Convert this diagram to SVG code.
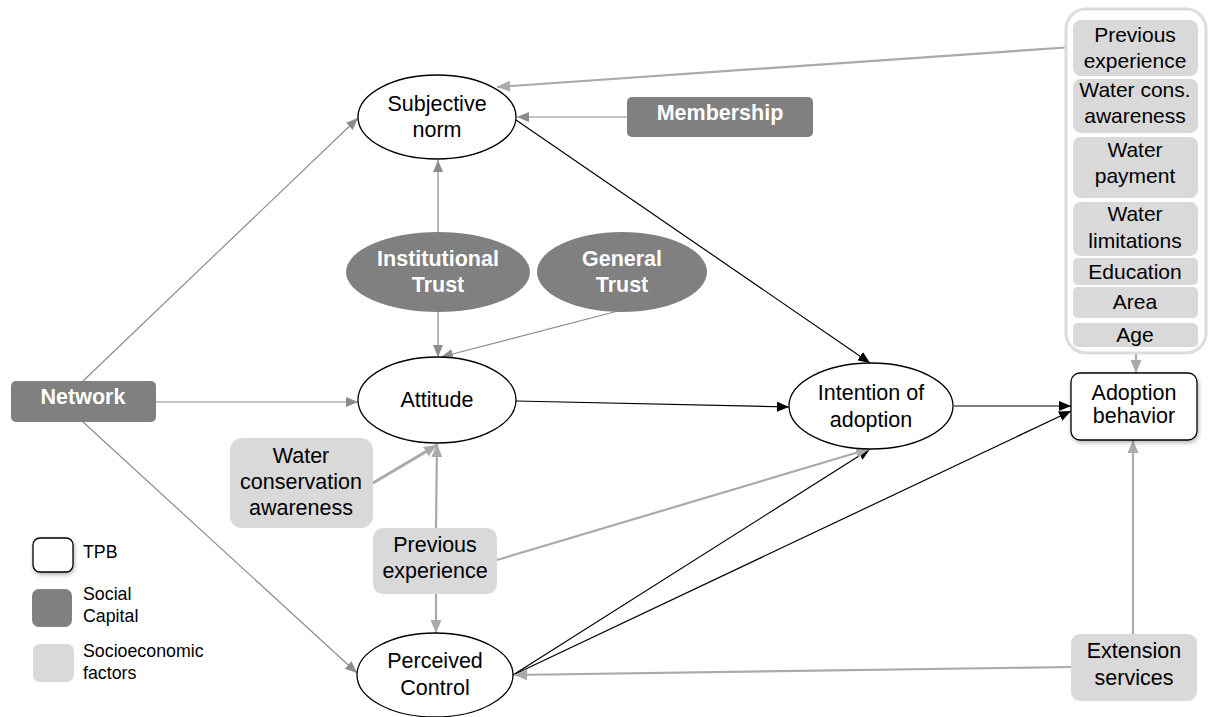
<svg xmlns="http://www.w3.org/2000/svg" width="1208" height="717" viewBox="0 0 1208 717">
<defs>
<style>
text{font-family:"Liberation Sans",Arial,sans-serif;text-anchor:middle}
.t{font-size:21.5px;fill:#000}
.tc{font-size:21px;fill:#000}
.tw{font-size:21.5px;font-weight:bold;fill:#fff}
.lg{font-size:17.8px;fill:#000;text-anchor:start}
.tpb{fill:#fff;stroke:#000;stroke-width:1.3}
.sc{fill:#808080}
.se{fill:#d9d9d9}
.g{stroke:#8c8c8c;stroke-width:1.2;fill:none;marker-end:url(#ag)}
.l{stroke:#aaaaaa;stroke-width:2.2;fill:none;marker-end:url(#al)}
.lw{stroke:#aaaaaa;stroke-width:3;fill:none;marker-end:url(#al)}
.b{stroke:#000;stroke-width:1.2;fill:none;marker-end:url(#ab)}
</style>
<marker id="ag" markerUnits="userSpaceOnUse" markerWidth="12" markerHeight="10" refX="12" refY="5" orient="auto"><path d="M0,0 L12,5 L0,10 z" fill="#8c8c8c"/></marker>
<marker id="al" markerUnits="userSpaceOnUse" markerWidth="13" markerHeight="11" refX="13" refY="5.5" orient="auto"><path d="M0,0 L13,5.5 L0,11 z" fill="#aaaaaa"/></marker>
<marker id="ab" markerUnits="userSpaceOnUse" markerWidth="12" markerHeight="10" refX="12" refY="5" orient="auto"><path d="M0,0 L12,5 L0,10 z" fill="#000"/></marker>
<filter id="sh" x="-20%" y="-20%" width="140%" height="140%"><feDropShadow dx="1" dy="2" stdDeviation="2" flood-color="#000" flood-opacity="0.3"/></filter>
</defs>

<g id="connectors">
<line class="g" x1="83" y1="381" x2="358" y2="118"/>
<line class="g" x1="156" y1="402" x2="358" y2="402"/>
<line class="g" x1="83" y1="422" x2="357" y2="673"/>
<line class="g" x1="627" y1="117" x2="517" y2="117"/>
<line class="l" x1="1073" y1="47" x2="497" y2="87"/>
<line class="g" x1="438" y1="232" x2="438" y2="160"/>
<line class="g" x1="438" y1="312" x2="438" y2="357"/>
<line class="g" x1="618" y1="311" x2="441" y2="357"/>
<line class="b" x1="516" y1="120" x2="870" y2="363"/>
<line class="b" x1="516" y1="401" x2="789" y2="407"/>
<line class="b" x1="954" y1="406" x2="1071" y2="406"/>
<line class="b" x1="513" y1="675" x2="870" y2="449"/>
<line class="b" x1="513" y1="675" x2="1071" y2="411"/>
<line class="l" x1="497" y1="560" x2="869" y2="449"/>
<line class="l" x1="436" y1="528" x2="437" y2="444"/>
<line class="l" x1="436" y1="594" x2="436" y2="633"/>
<line class="lw" x1="373" y1="483" x2="437" y2="445"/>
<line class="l" x1="1071" y1="667" x2="514" y2="675"/>
<line class="l" x1="1133" y1="634" x2="1133" y2="440"/>
<line class="l" x1="1136" y1="353" x2="1136" y2="373"/>
</g>

<g id="subjective-norm">
<ellipse class="tpb" cx="437" cy="117" rx="79" ry="42"/>
<text class="t" x="437" y="111">Subjective</text>
<text class="t" x="437" y="137">norm</text>
</g>

<g id="membership">
<rect class="sc" x="627" y="97" width="186" height="40" rx="5"/>
<text class="tw" x="720" y="120">Membership</text>
</g>

<g id="institutional-trust">
<ellipse class="sc" cx="438" cy="272" rx="92" ry="40"/>
<text class="tw" x="438" y="266">Institutional</text>
<text class="tw" x="438" y="292">Trust</text>
</g>

<g id="general-trust">
<ellipse class="sc" cx="622" cy="272" rx="85" ry="40"/>
<text class="tw" x="622" y="266">General</text>
<text class="tw" x="622" y="292">Trust</text>
</g>

<g id="network">
<rect class="sc" x="11" y="381" width="145" height="41" rx="5"/>
<text class="tw" x="83" y="404">Network</text>
</g>

<g id="attitude">
<ellipse class="tpb" cx="437" cy="400" rx="79" ry="43"/>
<text class="t" x="437" y="407">Attitude</text>
</g>

<g id="water-conservation-awareness">
<rect class="se" x="230" y="438" width="143" height="90" rx="12"/>
<text class="t" x="301" y="463">Water</text>
<text class="t" x="301" y="489">conservation</text>
<text class="t" x="301" y="515">awareness</text>
</g>

<g id="previous-experience">
<rect class="se" x="373" y="528" width="124" height="66" rx="10"/>
<text class="t" x="435" y="552">Previous</text>
<text class="t" x="435" y="578">experience</text>
</g>

<g id="perceived-control">
<ellipse class="tpb" cx="435" cy="675" rx="78" ry="42"/>
<text class="t" x="435" y="668">Perceived</text>
<text class="t" x="435" y="695">Control</text>
</g>

<g id="intention-of-adoption">
<ellipse class="tpb" cx="871" cy="406" rx="82" ry="43"/>
<text class="t" x="871" y="400">Intention of</text>
<text class="t" x="871" y="427">adoption</text>
</g>

<g id="adoption-behavior">
<rect class="tpb" x="1071" y="373" width="126" height="67" rx="9" filter="url(#sh)"/>
<text class="t" x="1134" y="400">Adoption</text>
<text class="t" x="1134" y="423">behavior</text>
</g>

<g id="extension-services">
<rect class="se" x="1071" y="634" width="126" height="67" rx="9"/>
<text class="t" x="1134" y="658">Extension</text>
<text class="t" x="1134" y="685">services</text>
</g>

<g id="socioeconomic-factors">
<rect x="1066" y="9" width="140" height="344" rx="20" fill="#fff" stroke="#dcdcdc" stroke-width="3"/>
<rect class="se" x="1073" y="20" width="125" height="56" rx="8"/>
<text class="tc" x="1135" y="42">Previous</text>
<text class="tc" x="1135" y="68">experience</text>
<rect class="se" x="1073" y="79" width="125" height="54" rx="8"/>
<text class="tc" x="1135" y="97">Water cons.</text>
<text class="tc" x="1135" y="123">awareness</text>
<rect class="se" x="1073" y="137" width="125" height="61" rx="8"/>
<text class="tc" x="1135" y="157">Water</text>
<text class="tc" x="1135" y="183">payment</text>
<rect class="se" x="1073" y="202" width="125" height="54" rx="8"/>
<text class="tc" x="1135" y="221">Water</text>
<text class="tc" x="1135" y="248">limitations</text>
<rect class="se" x="1073" y="258" width="125" height="27" rx="5"/>
<text class="tc" x="1135" y="279">Education</text>
<rect class="se" x="1073" y="287" width="125" height="31" rx="5"/>
<text class="tc" x="1135" y="309">Area</text>
<rect class="se" x="1073" y="323" width="125" height="24" rx="5"/>
<text class="tc" x="1135" y="342">Age</text>
</g>

<g id="legend">
<rect class="tpb" x="33" y="538" width="40" height="34" rx="7" filter="url(#sh)"/>
<text class="lg" x="83" y="558">TPB</text>
<rect class="sc" x="32" y="589" width="40" height="38" rx="7"/>
<text class="lg" x="83" y="600">Social</text>
<text class="lg" x="83" y="622">Capital</text>
<rect class="se" x="33" y="644" width="41" height="38" rx="7"/>
<text class="lg" x="83" y="657">Socioeconomic</text>
<text class="lg" x="83" y="679">factors</text>
</g>
</svg>
